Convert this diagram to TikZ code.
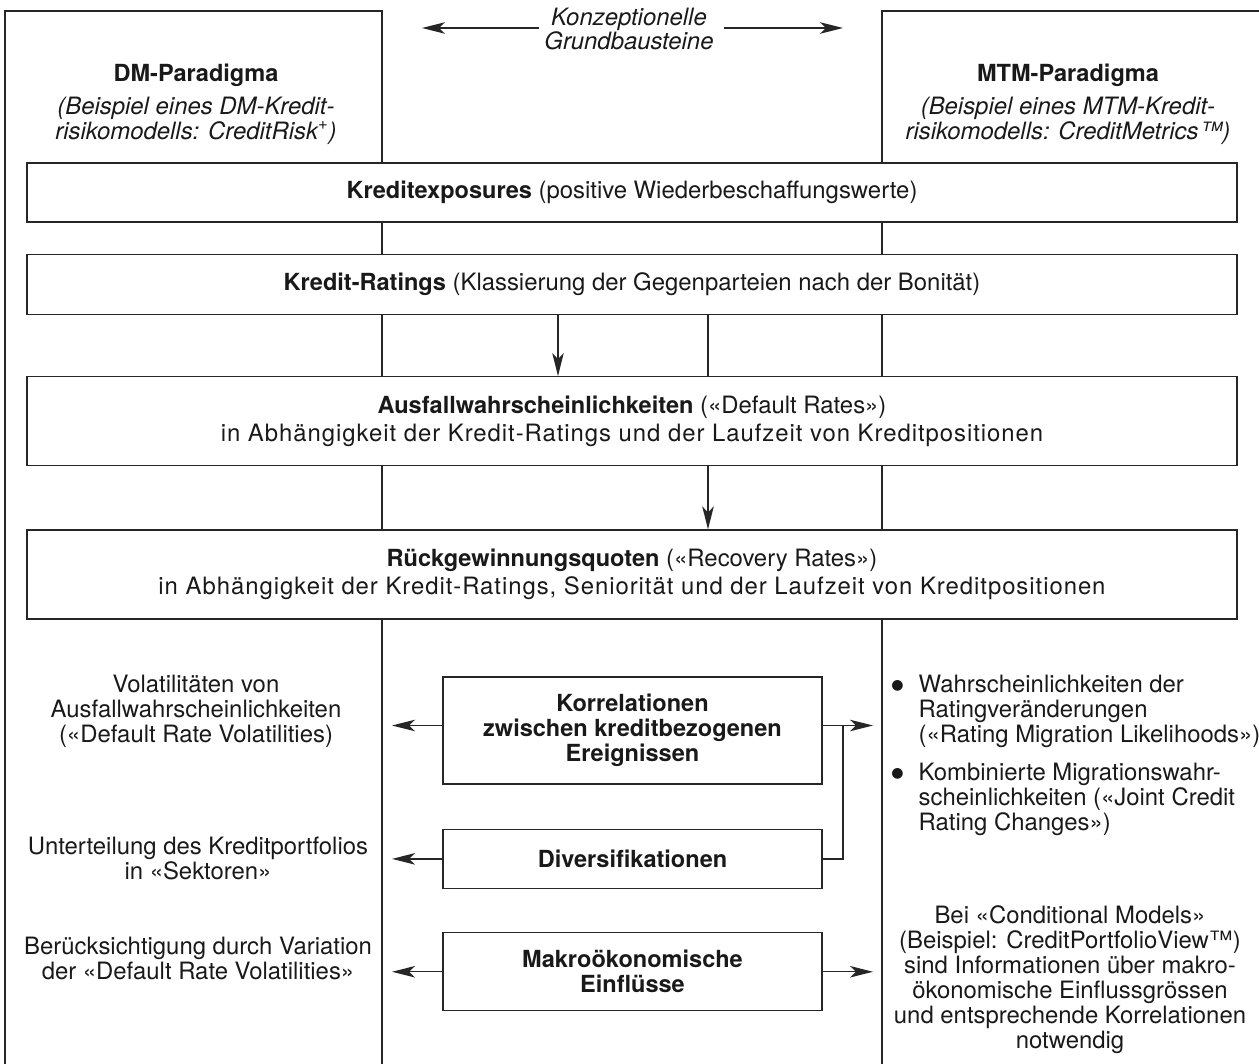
\documentclass[tikz,border=0pt]{standalone}
\usepackage{fontspec}
\setmainfont{TeX Gyre Heros}
\newfontfamily\symbolfont{DejaVu Sans}
\usepackage{tikz}
\usetikzlibrary{positioning}
\usetikzlibrary{arrows.meta}

\newcommand{\bulletmark}{\raisebox{0.12em}{\symbolfont\footnotesize ●}}
\newcommand{\boldlabel}[1]{{\fontsize{13.4}{14.2}\selectfont\bfseries #1}}
\newcommand{\widespaced}{\addfontfeatures{LetterSpace=4}}

\tikzset{
  txt/.style={align=center, inner sep=0pt, text=black!90, font=\fontsize{13.6}{14.2}\selectfont},
  itxt/.style={txt, font=\fontsize{13.6}{14.2}\selectfont\itshape},
  block/.style={draw, fill=white, inner sep=0pt, align=center, text=black!90,
    minimum width=24.2cm, font=\fontsize{13.6}{16}\selectfont},
  midbox/.style={block, minimum width=7.58cm, font=\fontsize{13.4}{14.2}\selectfont\bfseries},
}

\begin{document}
\begin{tikzpicture}[x=0.02cm, y=-0.02cm, line width=0.8pt, color=black!85,
    >={Stealth[length=0.46cm, width=0.23cm, inset=0.12cm]}]
    \useasboundingbox (0,0) rectangle (1259,1064);

    % the two paradigm columns
    \draw (5,1064) |- (382,11) -- (382,1064);
    \draw (882,1064) |- (1259,11);

    \node[txt] (dmhead) at (196,104) {\boldlabel{DM-Paradigma}\\[0.16cm]\textit{(Beispiel eines DM-Kredit-}\\\textit{risikomodells: CreditRisk\textsuperscript{+})}};
    \node[txt] (mtmhead) at (1068,104) {\boldlabel{MTM-Paradigma}\\[0.16cm]\textit{(Beispiel eines MTM-Kredit-}\\\textit{risikomodells: CreditMetrics™)}};
    \node[itxt] (konzept) at (629,29) {Konzeptionelle\\Grundbausteine};
    \coordinate (konzl) at (422,28);
    \coordinate (konzr) at (843,28);
    \draw[->] ([xshift=-0.1cm]konzept.west |- konzl) -- (konzl);
    \draw[->] ([xshift=0.2cm]konzept.east |- konzr) -- (konzr);

    % building blocks
    \node[block, minimum height=1.18cm] (expo) at (632,192.5) {\boldlabel{Kreditexposures} (positive Wiederbeschaffungswerte)};
    \node[block, minimum height=1.2cm, below=0.62cm of expo] (ratings) {\boldlabel{Kredit-Ratings} (Klassierung der Gegenparteien nach der Bonität)};
    \node[block, minimum height=1.78cm, below=1.22cm of ratings] (defaults) {\boldlabel{Ausfallwahrscheinlichkeiten} («Default Rates»)\\{\widespaced in Abhängigkeit der Kredit-Ratings und der Laufzeit von Kreditpositionen}};
    \node[block, minimum height=1.78cm, below=1.26cm of defaults] (recovery) {\boldlabel{Rückgewinnungsquoten} («Recovery Rates»)\\{\widespaced in Abhängigkeit der Kredit-Ratings, Seniorität und der Laufzeit von Kreditpositionen}};

    \coordinate (downa) at (558,0);
    \coordinate (downb) at (708,0);
    \draw[->] (ratings.south -| downa) -- (defaults.north -| downa);
    \draw (ratings.south -| downb) -- (defaults.north -| downb);
    \draw[->] (defaults.south -| downb) -- (recovery.north -| downb);

    % middle boxes
    \node[midbox, minimum height=2.14cm] (korr) at (632.5,730.5) {Korrelationen\\zwischen kreditbezogenen\\Ereignissen};
    \node[midbox, minimum height=1.18cm, below=0.88cm of korr] (divers) {Diversifikationen};
    \node[midbox, minimum height=1.56cm, below=0.86cm of divers] (makro) {Makroökonomische\\Einflüsse};

    \coordinate (korrin) at ([yshift=0.1cm]korr.west);
    \coordinate (korrout) at ([yshift=0.1cm]korr.east);
    \coordinate (leftend) at (392,0);
    \coordinate (rightend) at (873,0);
    \coordinate (knee) at (843,0);
    \draw[->] (korrin) -- (korrin -| leftend);
    \draw[->] (korrout) -- (korrout -| rightend);
    \draw (divers.east) -| (korrout -| knee);
    \draw[->] (divers.west) -- (divers.west -| leftend);
    \draw[->] (makro.west) -- (makro.west -| leftend);
    \draw[->] (makro.east) -- (makro.east -| rightend);

    % DM side
    \node[txt] (volat) at (196,711) {Volatilitäten von\\Ausfallwahrscheinlichkeiten\\(«Default Rate Volatilities)};
    \node[txt] (sektor) at (198,858) {Unterteilung des Kreditportfolios\\in «Sektoren»};
    \node[txt] (variat) at (198,958) {Berücksichtigung durch Variation\\der «Default Rate Volatilities»};

    % MTM side
    \node[txt, align=left, anchor=west] (migr) at (918,711) {\llap{\bulletmark\hspace{0.3cm}}Wahrscheinlichkeiten der\\Ratingveränderungen\\(«Rating Migration Likelihoods»)};
    \node[txt, align=left, anchor=west] (joint) at (918,799) {\llap{\bulletmark\hspace{0.3cm}}Kombinierte Migrationswahr-\\scheinlichkeiten («Joint Credit\\Rating Changes»)};
    \node[txt] (condit) at (1070,980) {Bei «Conditional Models»\\(Beispiel: CreditPortfolioView™)\\sind Informationen über makro-\\ökonomische Einflussgrössen\\und entsprechende Korrelationen\\notwendig};
\end{tikzpicture}
\end{document}
